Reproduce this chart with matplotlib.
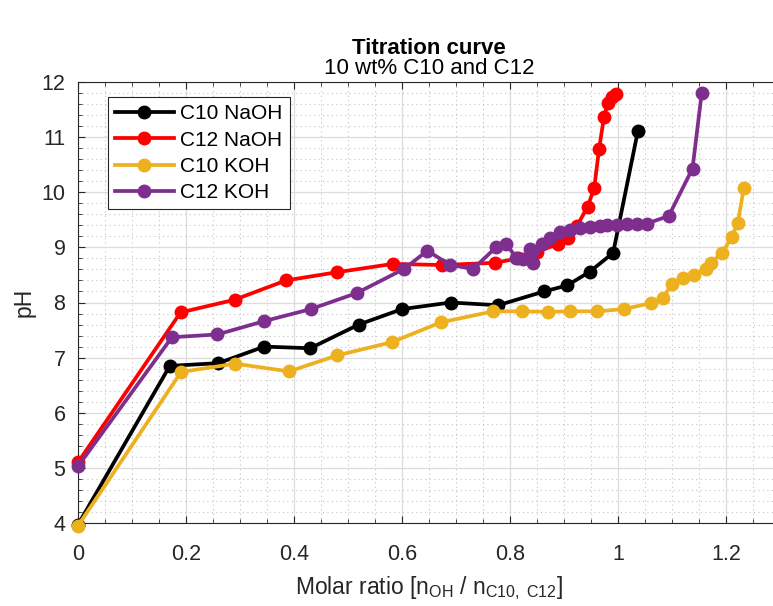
import matplotlib.pyplot as plt
from matplotlib.ticker import MultipleLocator
import numpy as np

plt.rcParams['font.family'] = ['Liberation Sans', 'DejaVu Sans']
plt.rcParams['mathtext.fontset'] = 'custom'
plt.rcParams['mathtext.rm'] = 'Liberation Sans'
plt.rcParams['mathtext.it'] = 'Liberation Sans'

# molar ratio / pH
c10_naoh_x = [0, 0.17, 0.26, 0.345, 0.43, 0.52, 0.6, 0.69, 0.778, 0.863, 0.906, 0.948, 0.991, 1.037]
c10_naoh_y = [3.97, 6.85, 6.9, 7.2, 7.17, 7.6, 7.88, 8.0, 7.95, 8.2, 8.31, 8.56, 8.9, 11.12]

c12_naoh_x = [0, 0.19, 0.29, 0.385, 0.48, 0.583, 0.674, 0.772, 0.815, 0.85, 0.889, 0.907,
              0.924, 0.944, 0.956, 0.965, 0.974, 0.981, 0.989, 0.996]
c12_naoh_y = [5.1, 7.82, 8.05, 8.4, 8.55, 8.7, 8.68, 8.72, 8.8, 8.92, 9.06, 9.17,
              9.39, 9.74, 10.08, 10.79, 11.36, 11.61, 11.72, 11.78]

c10_koh_x = [0, 0.191, 0.291, 0.391, 0.48, 0.581, 0.672, 0.769, 0.822, 0.871, 0.911, 0.961,
             1.011, 1.061, 1.083, 1.1, 1.12, 1.141, 1.163, 1.172, 1.193, 1.211, 1.222, 1.233]
c10_koh_y = [3.95, 6.74, 6.89, 6.75, 7.04, 7.28, 7.64, 7.84, 7.84, 7.83, 7.84, 7.84,
             7.88, 7.99, 8.08, 8.34, 8.44, 8.5, 8.61, 8.72, 8.9, 9.19, 9.45, 10.08]

c12_koh_x = [0, 0.174, 0.258, 0.344, 0.431, 0.516, 0.604, 0.647, 0.689, 0.732, 0.775, 0.793,
             0.812, 0.824, 0.837, 0.843, 0.859, 0.874, 0.893, 0.911, 0.93, 0.948, 0.967,
             0.98, 0.998, 1.017, 1.035, 1.053, 1.094, 1.138, 1.155]
c12_koh_y = [5.03, 7.37, 7.42, 7.66, 7.88, 8.17, 8.61, 8.94, 8.68, 8.61, 9.01, 9.06,
             8.81, 8.79, 8.97, 8.72, 9.06, 9.17, 9.27, 9.32, 9.36, 9.37, 9.39,
             9.41, 9.41, 9.42, 9.43, 9.43, 9.57, 10.43, 11.8]

series = [
    ('C10 NaOH', c10_naoh_x, c10_naoh_y, 'black'),
    ('C12 NaOH', c12_naoh_x, c12_naoh_y, (1.0, 0.0, 0.0)),
    ('C10 KOH', c10_koh_x, c10_koh_y, (0.929, 0.694, 0.125)),
    ('C12 KOH', c12_koh_x, c12_koh_y, (0.494, 0.184, 0.556)),
]

fig = plt.figure(figsize=(7.73, 6.06), dpi=100)
ax = fig.add_axes([78 / 773, 83 / 606, 702 / 773, 441 / 606])

for name, x, y, col in series:
    ax.plot(x, y, '-o', color=col, lw=2.7, ms=9, label=name, clip_on=False, zorder=3)

ax.set_xlim(0, 1.3)
ax.set_ylim(4, 12)
ax.xaxis.set_minor_locator(MultipleLocator(0.05))
ax.yaxis.set_major_locator(MultipleLocator(1))
ax.yaxis.set_minor_locator(MultipleLocator(0.2))
ax.set_xticks(np.arange(0, 1.21, 0.2))
ax.set_xticklabels(['0', '0.2', '0.4', '0.6', '0.8', '1', '1.2'])

ax.grid(True, which='major', color='#dcdcdc', lw=0.9, zorder=0)
ax.grid(True, which='minor', color='#c4c4c4', lw=0.8, ls=(0, (1, 3)), zorder=0)
ax.set_axisbelow(True)

tc = '#262626'
for s in ax.spines.values():
    s.set_color(tc)
    s.set_linewidth(0.8)
ax.tick_params(which='both', direction='in', top=True, right=True, colors=tc, labelsize=15.5)
ax.tick_params(which='major', length=5)
ax.tick_params(which='minor', length=3)
ax.tick_params(axis='x', pad=15)
ax.tick_params(axis='y', pad=9)

ax.set_ylabel('pH', fontsize=16.5, color=tc, labelpad=4)
ax.set_xlabel(r'Molar ratio [n$_{\mathrm{OH}}$ / n$_{\mathrm{C10,\ C12}}$]', fontsize=16.5,
              color=tc, labelpad=7)

fig.text(429 / 773, 1 - 49 / 606, 'Titration curve', ha='center', va='center',
         fontsize=16, fontweight='bold')
fig.text(429 / 773, 1 - 69 / 606, '10 wt% C10 and C12', ha='center', va='center',
         fontsize=16)

leg = ax.legend(loc='upper left', bbox_to_anchor=(30 / 702, 1 - 15 / 441), fontsize=15,
                fancybox=False, framealpha=1, edgecolor='#262626', borderpad=0.35,
                handlelength=2.8, labelspacing=0.35, handletextpad=0.3, borderaxespad=0)
leg.get_frame().set_linewidth(0.8)

fig.savefig('out.png', dpi=100)
